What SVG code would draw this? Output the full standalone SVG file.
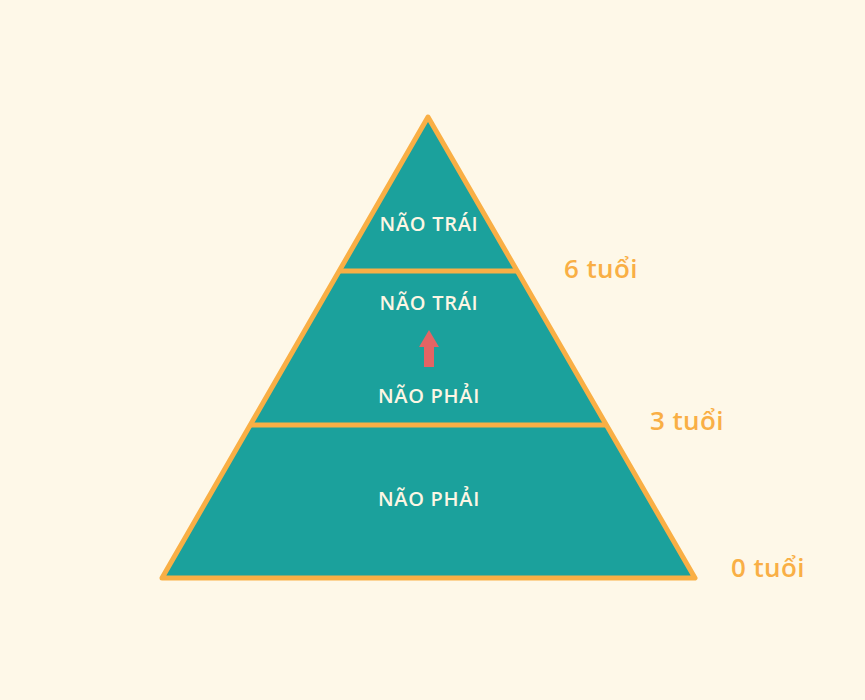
<svg xmlns="http://www.w3.org/2000/svg" width="865" height="700" viewBox="0 0 865 700">
<style>
.seg{fill:#1BA19C;stroke:#F9AF45;stroke-width:5;stroke-linejoin:round}
.lbl{font-family:"Open Sans","Liberation Sans",sans-serif;font-weight:600;font-size:20px;fill:#FDF6E4;text-anchor:middle;letter-spacing:0.7px}
.age{font-family:"Open Sans","Liberation Sans",sans-serif;font-weight:600;font-size:26px;fill:#F9AF45;letter-spacing:0.4px}
</style>
<rect width="865" height="700" fill="#FEF8E8"/>
<g id="pyramid">
<polygon class="seg" points="428,117 695,578 162,578"/>
</g>
<g id="connectors">
<line x1="339" y1="271" x2="517" y2="271" stroke="#F9AF45" stroke-width="5"/>
<line x1="250" y1="425" x2="606" y2="425" stroke="#F9AF45" stroke-width="5"/>
</g>
<g id="top"><text class="lbl" x="429" y="231">NÃO TRÁI</text></g>
<g id="middle">
<text class="lbl" x="429" y="310">NÃO TRÁI</text>
<polygon points="429,330 439,347 434,347 434,367 424,367 424,347 419,347" fill="#E46464"/>
<text class="lbl" x="429" y="403">NÃO PHẢI</text>
</g>
<g id="bottom"><text class="lbl" x="429" y="506">NÃO PHẢI</text></g>
<g id="ages">
<text class="age" x="564" y="278">6 tuổi</text>
<text class="age" x="650" y="430">3 tuổi</text>
<text class="age" x="731" y="577">0 tuổi</text>
</g>
</svg>
